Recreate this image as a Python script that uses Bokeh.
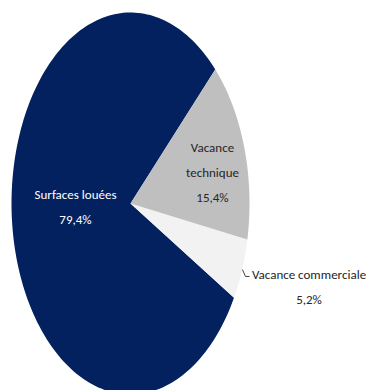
import numpy as np
from bokeh.plotting import figure
from bokeh.models import ColumnDataSource, Range1d
from bokeh.core.properties import value
from bokeh.embed import file_html
from bokeh.resources import INLINE

# Data
categories = ["Surfaces louées", "Vacance commerciale", "Vacance technique"]
shares = [79.4, 5.2, 15.4]
colors = ["#03215F", "#F2F2F2", "#BFBFBF"]
start_angle_deg = 44.6

W, H = 368, 390
# pixel geometry of the (vertically stretched) pie inside the canvas
cx, cy, rx, ry = 130, 203, 119, 191
x_range = Range1d(-cx / rx, (W - cx) / rx)
y_range = Range1d(-(H - cy) / ry, cy / ry)

p = figure(width=W, height=H, x_range=x_range, y_range=y_range,
           output_backend="svg", toolbar_location=None,
           x_axis_type=None, y_axis_type=None, min_border=0)
p.outline_line_color = None
p.grid.visible = False
p.background_fill_color = "white"

total = sum(shares)
xs, ys = [], []
a0 = np.deg2rad(start_angle_deg)
for s in shares:
    a1 = a0 + 2 * np.pi * s / total
    t = np.linspace(a0, a1, 200)
    xs.append([0.0] + list(np.cos(t)) + [0.0])
    ys.append([0.0] + list(np.sin(t)) + [0.0])
    a0 = a1

src = ColumnDataSource(dict(xs=xs, ys=ys, color=colors))
p.patches("xs", "ys", source=src, fill_color="color", line_color=None)

def fmt(v):
    return f"{v:.1f}%".replace(".", ",")

font = value("Carlito")
lab = ColumnDataSource(dict(
    x=[-0.462, 0.689, 1.500],
    y=[-0.018, 0.162, -0.437],
    text=[f"{categories[0]}\n{fmt(shares[0])}",
          categories[2].replace(" ", "\n") + f"\n{fmt(shares[2])}",
          f"{categories[1]}\n{fmt(shares[1])}"],
    color=["white", "#262626", "#262626"],
))
p.text("x", "y", text="text", source=lab, text_font=font,
       text_font_size="13px", text_align="center", text_baseline="middle",
       text_color="color", text_line_height=1.65)

# leader line for the small slice
p.line([0.941, 0.966, 1.000], [-0.346, -0.382, -0.382],
       line_color="#404040", line_width=1)

open("out.html", "w").write(file_html(p, INLINE))
